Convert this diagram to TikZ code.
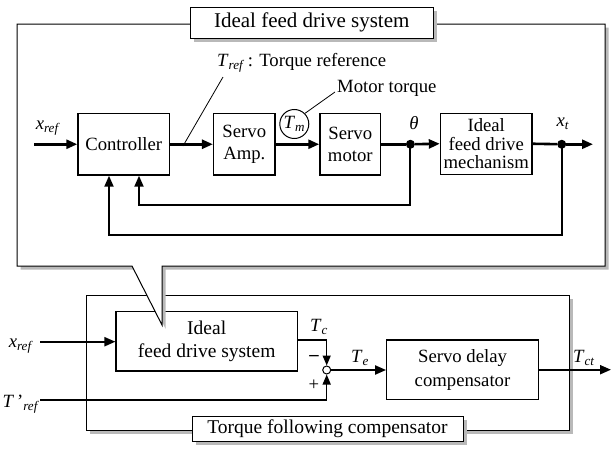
\documentclass[tikz,border=0pt]{standalone}
\usepackage{fontspec}
\setmainfont{Liberation Serif}
\usetikzlibrary{arrows.meta,calc}
\newcommand{\isub}[2]{\textit{#1}\textsubscript{\textit{#2}}}
\begin{document}
\begin{tikzpicture}[x=1pt,y=-1pt,
  box/.style={draw, line width=1.4pt, fill=white, inner sep=0pt, align=center, font=\fontsize{18.7}{22}\selectfont},
  arr/.style={-{Triangle[length=11pt,width=9pt]}, line width=2.6pt},
  fbarr/.style={-{Triangle[length=11pt,width=9pt]}, line width=2pt},
  thinarr/.style={-{Triangle[length=10pt,width=8pt]}, line width=1.5pt},
  dotn/.style={circle, fill=black, inner sep=0pt, minimum size=9pt},
  lbl/.style={inner sep=0pt, font=\fontsize{18.7}{22}\selectfont},
  shade/.style={fill=gray!55, draw=none},
  frame/.style={draw, line width=1pt, fill=white},
  leader/.style={line width=0.8pt}
]
\useasboundingbox (0,0) rectangle (611,450);

% ---------- lower frame: torque following compensator ----------
\fill[shade] (89.5,299) rectangle (573,433.5);
\draw[frame] (86,295.5) rectangle (569.5,430);

\node[box, line width=1.2pt, minimum width=181.3pt, minimum height=59.3pt,
      font=\fontsize{19.5}{23}\selectfont] (ideal2) at (206.7,341.4) {Ideal\\feed drive system};
\node[box, line width=1.2pt, minimum width=151.6pt, minimum height=59.5pt,
      font=\fontsize{18.7}{24}\selectfont] (sdc) at (462.5,369.7) {Servo delay\\compensator};
\node[circle, draw, line width=1pt, fill=white, inner sep=0pt, minimum size=8pt] (sum) at (326.7,370) {};

\coordinate (xin2) at (40,341.7);
\coordinate (tcs) at (297.3,340);
\coordinate (tpin) at (40,400);
\coordinate (tout) at (611,369.7);

\draw[fbarr] (xin2) -- (xin2 -| ideal2.west);
\draw[thinarr] (tcs) -| (sum.north);
\draw[thinarr] (tpin) -| (sum.south);
\draw[fbarr] (sum.east) -- (sum.east -| sdc.west);
\draw[fbarr] (sdc.east |- tout) -- (tout);

\node[lbl] (lxref2) at (21,346) {\isub{x}{ref}};
\node[lbl] (ltpref) at (21,404) {\textit{T}\,'\textsubscript{\textit{ref}}};
\node[lbl] (ltc) at (319,327) {\isub{T}{c}};
\node[lbl] (lminus) at (314,358) {\textbf{\textendash}};
\node[lbl] (lplus) at (314,385) {+};
\node[lbl] (lte) at (360,358) {\isub{T}{e}};
\node[lbl] (ltct) at (584,358) {\isub{T}{ct}};

% bottom title box
\fill[shade] (195.5,419.5) rectangle (466.5,444.5);
\node[draw, line width=1pt, fill=white, inner sep=0pt, minimum width=271pt, minimum height=25pt,
      font=\fontsize{19.5}{22}\selectfont] (ttfc) at (327.5,428.5) {Torque following compensator};

% ---------- upper frame (callout) ----------
\fill[shade, shift={(3.5,3.5)}] (17,24) -- (605,24) -- (605,266) -- (162,266) -- (162,325) -- (132,266) -- (17,266) -- cycle;
\draw[frame] (17,24) -- (605,24) -- (605,266) -- (162,266) -- (162,325) -- (132,266) -- (17,266) -- cycle;

% title box
\fill[shade] (194,11) rectangle (436.5,41.5);
\node[draw, line width=1pt, fill=white, inner sep=0pt, minimum width=242.5pt, minimum height=30.5pt,
      font=\fontsize{21}{24}\selectfont] (tifds) at (311.75,22.75) {Ideal feed drive system};

% blocks
\node[box, minimum width=91.5pt, minimum height=61.5pt] (ctrl) at (123.75,144.25) {Controller};
\node[box, minimum width=61.4pt, minimum height=61.5pt] (amp) at (244.3,144.25) {Servo\\Amp.};
\node[box, minimum width=60.7pt, minimum height=61.5pt] (motor) at (350.3,144.25) {Servo\\motor};
\node[box, minimum width=91.5pt, minimum height=61pt, font=\fontsize{18.7}{18.5}\selectfont] (mech) at (486.25,143.75) {Ideal\\feed drive\\mechanism};

\node[dotn] (thdot) at (410.4,144.25) {};
\node[dotn] (xtdot) at (561.7,144.25) {};
\coordinate (xin) at (34,144.25);
\coordinate (xout) at (593,144.25);

\draw[arr] (xin) -- (ctrl.west);
\draw[arr] (ctrl.east) -- (amp.west);
\draw[arr] (amp.east) -- (motor.west);
\draw[line width=2.6pt] (motor.east) -- (thdot);
\draw[arr] (thdot) -- (mech.west);
\draw[line width=2.6pt] (mech.east) -- (xtdot);
\draw[arr] (xtdot) -- (xout);

\draw[fbarr] (thdot.center) -- (410.4,205) -| ([xshift=15.25pt]ctrl.south);
\draw[fbarr] (xtdot.center) -- (561.7,235) -| ([xshift=-14.75pt]ctrl.south);

% T_m circle and leaders
\node[circle, draw, line width=1pt, inner sep=0pt, minimum size=29pt, font=\fontsize{18.7}{22}\selectfont] (tm) at (294.3,124) {\isub{T}{m}};
\coordinate (mtl) at (335,92);
\draw[leader] (tm.45) -- (mtl);
\node[lbl, anchor=west] (lmt) at (337,88) {Motor torque};

\coordinate (trl1) at (183,146);
\coordinate (trl2) at (223,77);
\draw[leader] (trl1) -- (trl2);
\node[lbl, anchor=west] (ltref) at (217,63) {\isub{T}{ref}\,: Torque reference};

\node[lbl] (lxref) at (48,128) {\isub{x}{ref}};
\node[lbl] (lth) at (414,123) {\textit{θ}};
\node[lbl] (lxt) at (563,124) {\isub{x}{t}};
\end{tikzpicture}
\end{document}
